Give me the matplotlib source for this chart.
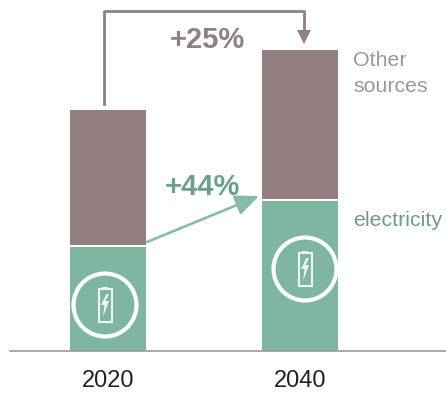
import matplotlib
matplotlib.use("Agg")
import matplotlib.pyplot as plt
from matplotlib.patches import Circle, FancyArrowPatch, Polygon, Rectangle
from matplotlib.transforms import Affine2D

plt.rcParams["font.family"] = ["Liberation Sans", "DejaVu Sans"]

years = ["2020", "2040"]
electricity = [105, 151]
other_sources = [136, 150]
total_growth = "+25%"
electricity_growth = "+44%"

GREEN = "#7fb5a3"
MAUVE = "#937f80"
GREEN_TEXT = "#6c9f8e"
MAUVE_TEXT = "#8f8182"
LABEL_MAUVE = "#a39496"
LABEL_GREEN = "#6f9a8c"

W, H = 446, 393
fig = plt.figure(figsize=(W / 100, H / 100), dpi=100, facecolor="white")

# Axes run from the baseline to the top edge; one y unit is one pixel.
ax = fig.add_axes([10 / W, (H - 351) / H, (W - 10) / W, 351 / H])
ax.set_ylim(0, 351)
ax.set_xlim((10 - 108) / 192, (446 - 108) / 192)
x = range(len(years))
ax.bar(x, electricity, width=76 / 192, color=GREEN, zorder=2)
ax.bar(x, other_sources, width=76 / 192, bottom=electricity, color=MAUVE, zorder=2)
for i, e in zip(x, electricity):
    ax.plot([i - 38 / 192, i + 38 / 192], [e, e], color="white", lw=1.4,
            solid_capstyle="butt", zorder=3)

ax.set_xticks(list(x), years)
ax.tick_params(axis="x", length=0, pad=14, labelsize=17, labelcolor="#222222")
ax.set_yticks([])
for side in ("top", "left", "right"):
    ax.spines[side].set_visible(False)
ax.spines["bottom"].set_color("#9a9a9a")
ax.spines["bottom"].set_linewidth(1.2)

# Annotations are placed in pixel coordinates measured from the top left.
px = Affine2D().scale(1, -1).translate(0, H)


def battery_badge(cx, cy):
    fig.add_artist(Circle((cx, cy), 31.5, transform=px, fill=False, ec="white", lw=3))
    top = cy - 16
    fig.add_artist(Rectangle((cx - 6.5, top), 13, 33, transform=px, fill=False,
                             ec="#eef6f3", lw=1.5))
    fig.add_artist(Rectangle((cx - 3, top - 2.5), 6, 2.5, transform=px, fc="#eef6f3", ec="none"))
    bolt = [(cx + 1.5, top + 5), (cx - 4, top + 16), (cx - 0.5, top + 16),
            (cx - 2, top + 28), (cx + 4, top + 12), (cx + 0.5, top + 12), (cx + 4, top + 5)]
    fig.add_artist(Polygon(bolt, closed=True, transform=px, fc="#eef6f3", ec="none"))


battery_badge(105, 305)
battery_badge(305, 269)

# Elbow connector between the two bar totals.
fig.add_artist(plt.Line2D([104, 104, 304, 304], [104, 11, 11, 32], transform=px,
                          color=MAUVE, lw=2.0, solid_joinstyle="round"))
fig.add_artist(Polygon([(297, 30), (311, 30), (304, 44)], closed=True, transform=px,
                       fc=MAUVE, ec="none"))

fig.add_artist(FancyArrowPatch((147, 242), (259, 196), transform=px,
                               arrowstyle="-|>,head_length=6.5,head_width=2.8",
                               mutation_scale=2.2, color="#86bbaa", lw=1.9,
                               shrinkA=0, shrinkB=0))


def label(xp, yp, s, **kw):
    fig.text(xp / W, 1 - yp / H, s, va="center", **kw)


label(207, 40, total_growth, ha="center", fontsize=21, fontweight="bold", color=MAUVE_TEXT)
label(202, 187, electricity_growth, ha="center", fontsize=21, fontweight="bold", color=GREEN_TEXT)
label(353, 60, "Other", fontsize=15.4, color=LABEL_MAUVE)
label(353, 87, "sources", fontsize=15.4, color=LABEL_MAUVE)
label(353, 221, "electricity", fontsize=15.4, color=LABEL_GREEN)

fig.savefig("out.png", dpi=100)
